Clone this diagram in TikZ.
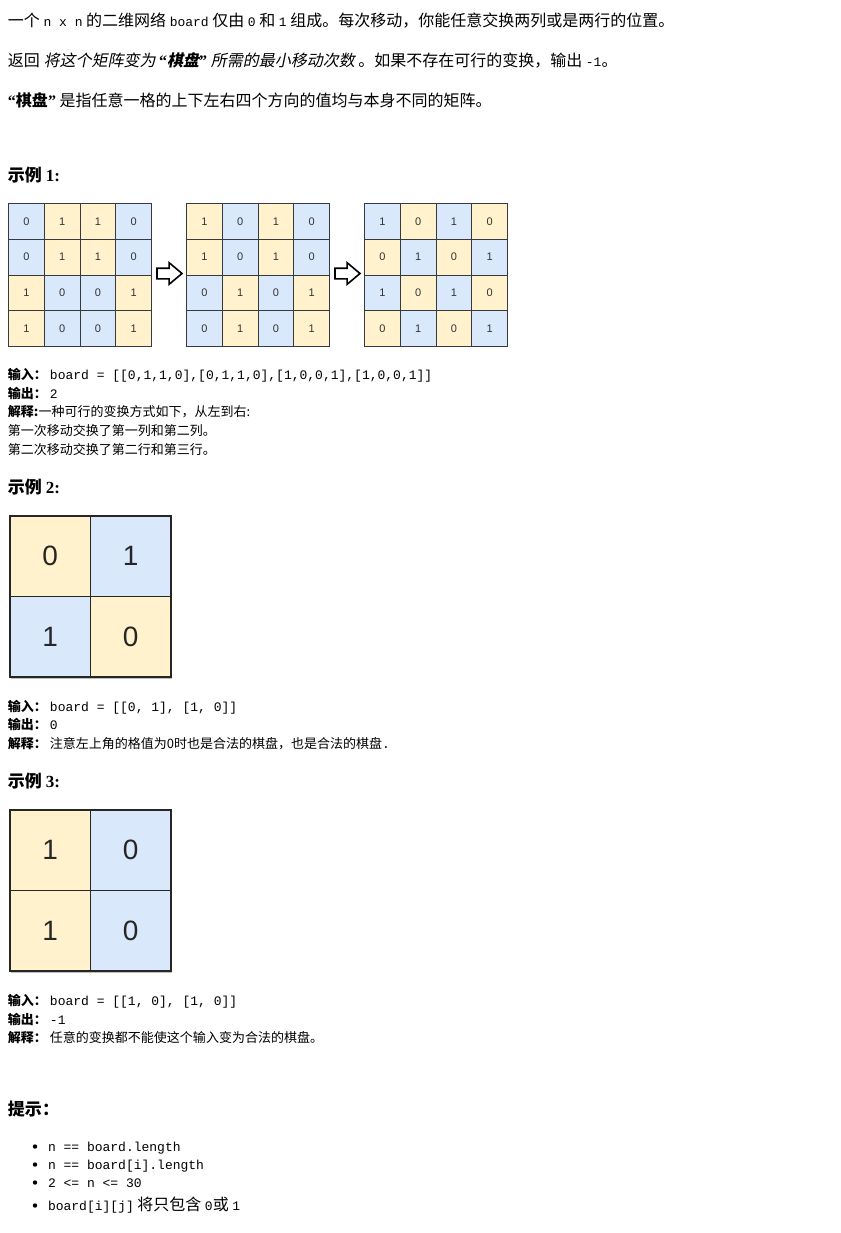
\documentclass[tikz,border=0pt]{standalone}
\usepackage{fontspec}
\usetikzlibrary{shapes.arrows}
\setmainfont{Noto Sans CJK SC}
\setmonofont{Liberation Mono}
\newfontfamily\cjkit[FakeSlant=0.2]{Noto Sans CJK SC}
\newfontfamily\serifb{Liberation Serif}
\newfontfamily\numsans{Liberation Sans}
\definecolor{cblue}{HTML}{DAE8FC}
\definecolor{cyel}{HTML}{FFF2CC}
\definecolor{cborder}{HTML}{36393D}
\colorlet{gA0}{cblue}
\colorlet{gA1}{cyel}
\colorlet{gB0}{cyel}
\colorlet{gB1}{cblue}
\newcommand\mc[1]{{\fontsize{13}{13}\selectfont\ttfamily #1}}
\newcommand\lbl[1]{{\bfseries #1}\hspace{3pt}}
\tikzset{
  txt/.style={anchor=base west, inner sep=0pt, outer sep=0pt},
  para/.style={txt, font=\fontsize{16}{16}\selectfont},
  small/.style={txt, font=\fontsize{13}{13}\selectfont},
  head/.style={txt, font=\fontsize{17}{17}\selectfont\bfseries},
  smallcell/.style={draw=cborder, line width=1pt, minimum size=35.75pt, inner sep=0pt, anchor=north west, font=\fontsize{11}{11}\selectfont\numsans, text=black!80},
  bigcell/.style={draw=black!85, line width=1.6pt, minimum size=80.5pt, inner sep=0pt, anchor=north west, font=\fontsize{28}{28}\selectfont\numsans, text=black!85},
  blockarrow/.style={single arrow, draw=black, fill=white, line width=1.6pt, minimum height=25pt, minimum width=20pt, single arrow head extend=5.5pt, inner xsep=0pt, inner ysep=4.5pt, single arrow tip angle=80, text height=0pt, text depth=0pt, anchor=tail, outer sep=0pt},
  shadowbox/.style={fill=black!25, draw=none}
}
\begin{document}
\begin{tikzpicture}[x=1pt,y=-1pt]
\useasboundingbox[fill=white] (0,0) rectangle (840,1233);
% top paragraphs
\node[para] (p1) at (8,27) {一个 \mc{n x n} 的二维网络 \mc{board} 仅由 \mc{0} 和 \mc{1} 组成。每次移动，你能任意交换两列或是两行的位置。};
\node[para] (p2) at (8,67) {返回 {\cjkit 将这个矩阵变为 {\bfseries\serifb “}{\bfseries 棋盘}{\bfseries\serifb ”} 所需的最小移动次数} 。如果不存在可行的变换，输出 \mc{-1}。};
\node[para] (p3) at (8,107) {{\bfseries\serifb “}{\bfseries 棋盘}{\bfseries\serifb ”} 是指任意一格的上下左右四个方向的值均与本身不同的矩阵。};
% example 1
\node[head] (h1) at (8,181.5) {示例 {\serifb 1:}};
\foreach \r/\row in {0/{0,1,1,0},1/{0,1,1,0},2/{1,0,0,1},3/{1,0,0,1}} {
  \foreach \v [count=\c from 0] in \row {
    \node[smallcell, fill=gA\v] (ga-\r-\c) at (8+35.75*\c, 203+35.75*\r) {\v};
  }
}
\foreach \r/\row in {0/{1,0,1,0},1/{1,0,1,0},2/{0,1,0,1},3/{0,1,0,1}} {
  \foreach \v [count=\c from 0] in \row {
    \node[smallcell, fill=gA\v] (gb-\r-\c) at (186+35.75*\c, 203+35.75*\r) {\v};
  }
}
\foreach \r/\row in {0/{1,0,1,0},1/{0,1,0,1},2/{1,0,1,0},3/{0,1,0,1}} {
  \foreach \v [count=\c from 0] in \row {
    \node[smallcell, fill=gB\v] (gc-\r-\c) at (364+35.75*\c, 203+35.75*\r) {\v};
  }
}
\node[blockarrow] (ar1) at (157,273.5) {};
\node[blockarrow] (ar2) at (335,273.5) {};
\node[small] (e1a) at (8,379) {\lbl{输入：}\mc{board = [[0,1,1,0],[0,1,1,0],[1,0,0,1],[1,0,0,1]]}};
\node[small] (e1b) at (8,398) {\lbl{输出：}\mc{2}};
\node[small] (e1c) at (8,416) {{\bfseries 解释:}一种可行的变换方式如下，从左到右:};
\node[small] (e1d) at (8,435) {第一次移动交换了第一列和第二列。};
\node[small] (e1e) at (8,454) {第二次移动交换了第二行和第三行。};
% example 2
\node[head] (h2) at (8,493.5) {示例 {\serifb 2:}};
\fill[shadowbox] (11,518) rectangle (172,679);
\node[bigcell, fill=cyel] (x2-0-0) at (9,515) {0};
\node[bigcell, fill=cblue] (x2-0-1) at (89.5,515) {1};
\node[bigcell, fill=cblue] (x2-1-0) at (9,595.5) {1};
\node[bigcell, fill=cyel] (x2-1-1) at (89.5,595.5) {0};
\node[small] (e2a) at (8,711) {\lbl{输入：}\mc{board = [[0, 1], [1, 0]]}};
\node[small] (e2b) at (8,729) {\lbl{输出：}\mc{0}};
\node[small] (e2c) at (8,748) {\lbl{解释：}注意左上角的格值为0时也是合法的棋盘，也是合法的棋盘\mc{.}};
% example 3
\node[head] (h3) at (8,787.5) {示例 {\serifb 3:}};
\fill[shadowbox] (11,812) rectangle (172,973);
\node[bigcell, fill=cyel] (x3-0-0) at (9,809) {1};
\node[bigcell, fill=cblue] (x3-0-1) at (89.5,809) {0};
\node[bigcell, fill=cyel] (x3-1-0) at (9,889.5) {1};
\node[bigcell, fill=cblue] (x3-1-1) at (89.5,889.5) {0};
\node[small] (e3a) at (8,1005) {\lbl{输入：}\mc{board = [[1, 0], [1, 0]]}};
\node[small] (e3b) at (8,1024) {\lbl{输出：}\mc{-1}};
\node[small] (e3c) at (8,1042) {\lbl{解释：}任意的变换都不能使这个输入变为合法的棋盘。};
% hints
\node[head] (h4) at (8,1115.5) {提示：};
\foreach \yy/\t [count=\i] in {1151/{n == board.length},1169/{n == board[i].length},1187/{2 <= n <= 30}} {
  \fill (35,\yy-4.5) circle (2.2pt);
  \node[txt] (b\i) at (48,\yy) {\mc{\t}};
}
\fill (35,1205.5) circle (2.2pt);
\node[para] (b4) at (48,1210) {\mc{board[i][j]} 将只包含 \mc{0}或 \mc{1}};
\end{tikzpicture}
\end{document}
